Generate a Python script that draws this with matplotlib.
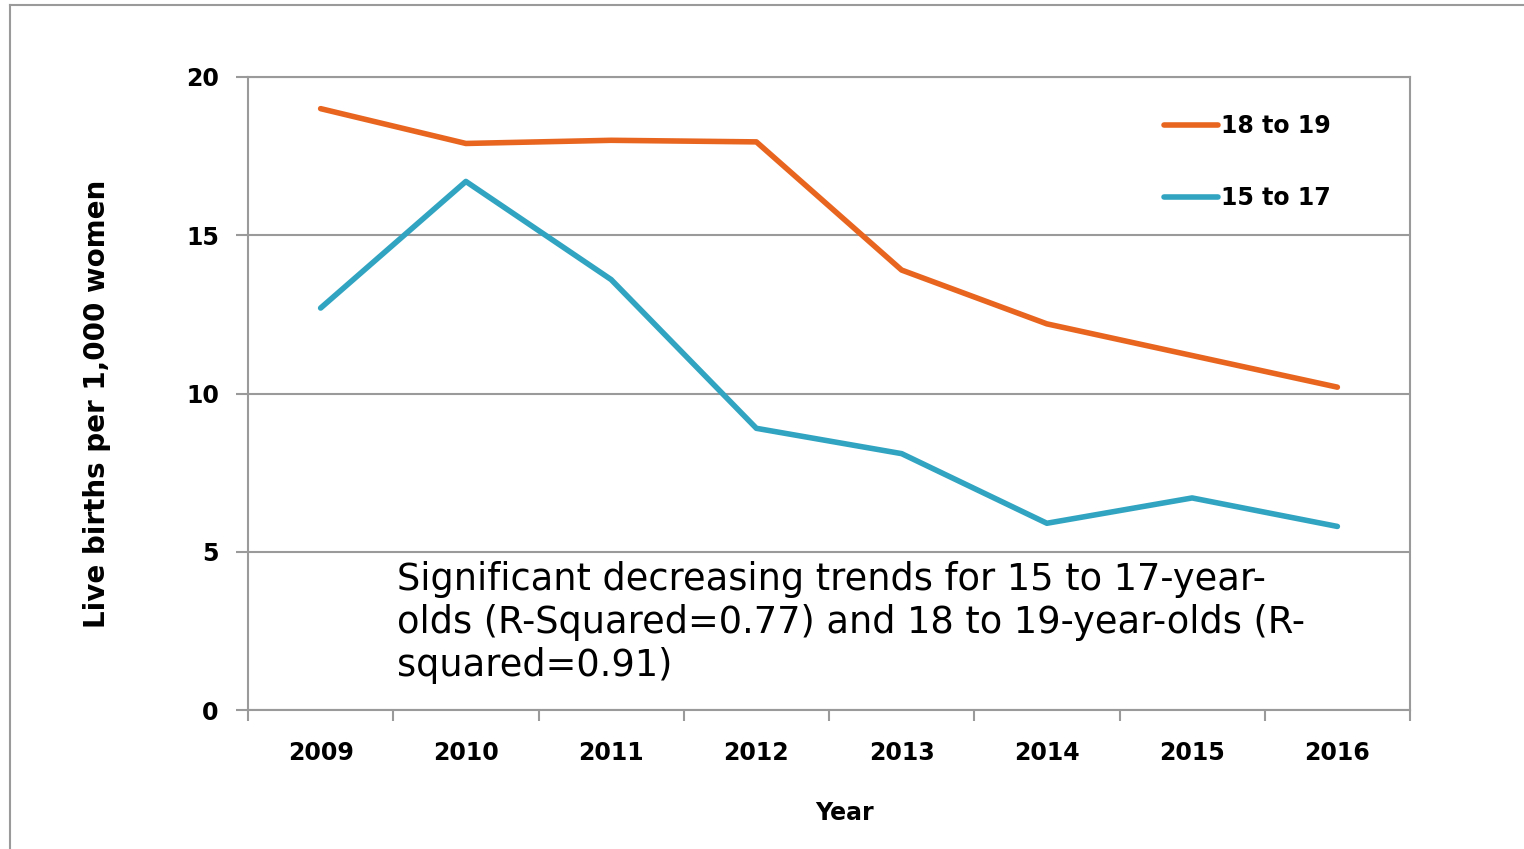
import numpy as np
import matplotlib
matplotlib.use("Agg")
from matplotlib import pyplot as plt
from matplotlib.lines import Line2D

years = ["2009", "2010", "2011", "2012", "2013", "2014", "2015", "2016"]
age_18_19 = [19.0, 17.9, 18.0, 17.95, 13.9, 12.2, 11.2, 10.2]
age_15_17 = [12.7, 16.7, 13.6, 8.9, 8.1, 5.9, 6.7, 5.8]
yticks = [0, 5, 10, 15, 20]
note = ("Significant decreasing trends for 15 to 17-year-\n"
        "olds (R-Squared=0.77) and 18 to 19-year-olds (R-\n"
        "squared=0.91)")

plt.rcParams['font.family'] = ['DejaVu Sans']
orange = '#E8651F'
blue = '#30A4C1'
grey = '#9A9A9A'

fig = plt.figure(figsize=(15.24, 8.49), dpi=100)
ax = fig.add_axes([248/1524, 1-710/849, (1410-248)/1524, (710-77)/849])

x = np.arange(len(years))
ax.plot(x, age_18_19, color=orange, lw=4, solid_capstyle='round', label='18 to 19')
ax.plot(x, age_15_17, color=blue, lw=4, solid_capstyle='round', label='15 to 17')

ax.set_xlim(-0.5, len(years) - 0.5)
ax.set_ylim(0, 20)
ax.set_yticks(yticks)
ax.set_yticklabels([str(v) for v in yticks], fontsize=17, fontweight='bold')
ax.set_xticks(x)
ax.set_xticklabels(years, fontsize=17, fontweight='bold')
ax.tick_params(axis='x', length=0, pad=22)
ax.set_xticks(np.arange(-0.5, len(years)), minor=True)
ax.tick_params(axis='x', which='minor', length=8, width=1.5, color=grey, direction='out')
ax.tick_params(axis='y', length=9, width=1.5, color=grey, pad=12)
ax.grid(axis='y', color=grey, lw=1.5)
ax.set_axisbelow(True)
for s in ax.spines.values():
    s.set_color(grey)
    s.set_linewidth(1.5)

ax.set_xlabel('Year', fontsize=17, fontweight='bold', labelpad=30)
ax.xaxis.set_label_coords(0.513, -0.143)
ax.set_ylabel('Live births per 1,000 women', fontsize=20, fontweight='bold')
ax.yaxis.set_label_coords(-0.118, 0.483)

ax.text(0.128, 0.235, note, transform=ax.transAxes, fontsize=26.5, va='top',
        ha='left', linespacing=1.2)

leg = ax.legend(loc='upper left', bbox_to_anchor=(0.77, 0.975), frameon=False,
                handlelength=2.3, handletextpad=0.1,
                labelspacing=2.05, prop={'weight': 'bold', 'size': 17})

# outer frame (top and left only)
fig.add_artist(Line2D([10/1524, 1], [1-5/849, 1-5/849], color=grey, lw=1.5))
fig.add_artist(Line2D([10/1524, 10/1524], [0, 1-5/849], color=grey, lw=1.5))

fig.savefig('out.png', dpi=100)
